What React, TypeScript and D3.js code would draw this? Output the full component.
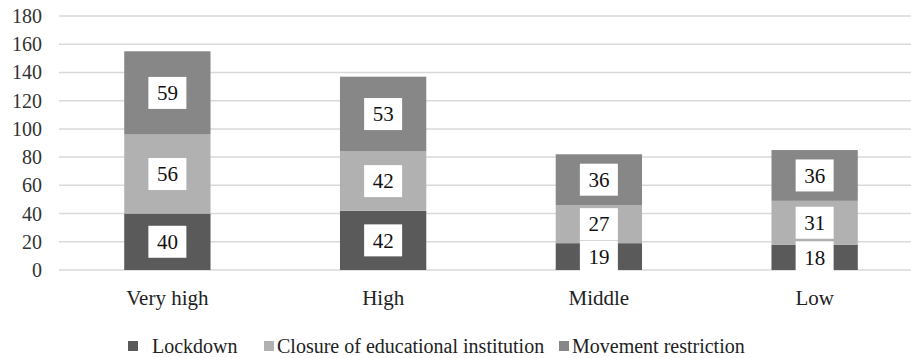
import React from "react";
import * as d3 from "d3";

const categories = ["Very high", "High", "Middle", "Low"];
const seriesNames = ["Lockdown", "Closure of educational institution", "Movement restriction"];
const lockdown = [40, 42, 19, 18];
const closure = [56, 42, 27, 31];
const movement = [59, 53, 36, 36];
const yTicks = [0, 20, 40, 60, 80, 100, 120, 140, 160, 180];
const colors = ["#5a5a5a", "#b1b1b1", "#878787"];

const W = 911;
const H = 358;
const ts = { fontFamily: '"Liberation Serif"' };

export default function App() {
  const x = d3.scaleBand<string>().domain(categories).range([59.5, 922.5]).paddingInner(0.6).paddingOuter(0.3);
  const y = d3.scaleLinear().domain([0, 180]).range([270, 16]);
  const rows = categories.map((c, i) => ({ cat: c, s0: lockdown[i], s1: closure[i], s2: movement[i] }));
  const stack = d3.stack<any>().keys(["s0", "s1", "s2"]);
  const layers = stack(rows);
  const legendX = [128, 264, 559];
  const boxW = 38;
  const boxH = 32;

  return (
    <svg width={W} height={H} fontFamily="Liberation Serif" style={{ position: "absolute", left: 0, top: 0, background: "#fff" }}>
      <style>{`text { font-family: "Liberation Serif" !important; }`}</style>
      {yTicks.map((t) => (
        <g key={t}>
          <line x1={59} x2={W} y1={y(t)} y2={y(t)} stroke="#d9d9d9" strokeWidth={1.5} />
          <text x={42} y={y(t)} dy="0.35em" textAnchor="end" fontSize={20} fill="#333" fontFamily="Liberation Serif" style={ts}>{t}</text>
        </g>
      ))}
      {layers.map((layer, li) => (
        <g key={li}>
          {layer.map((d, i) => (
            <rect key={i} x={x(categories[i])} width={x.bandwidth()} y={y(d[1])} height={y(d[0]) - y(d[1])} fill={colors[li]} />
          ))}
        </g>
      ))}
      {layers.map((layer, li) => (
        <g key={"l" + li}>
          {layer.map((d, i) => {
            const cx = (x(categories[i]) as number) + x.bandwidth() / 2;
            const cy = (y(d[0]) + y(d[1])) / 2;
            return (
              <g key={i}>
                <rect x={cx - boxW / 2} y={cy - boxH / 2} width={boxW} height={boxH} fill="#fff" />
                <text x={cx} y={cy} dy="0.35em" textAnchor="middle" fontSize={21} fill="#111" fontFamily="Liberation Serif" style={ts}>{d[1] - d[0]}</text>
              </g>
            );
          })}
        </g>
      ))}
      {categories.map((c) => (
        <text key={c} x={(x(c) as number) + x.bandwidth() / 2} y={305} textAnchor="middle" fontSize={21} fill="#222" fontFamily="Liberation Serif" style={ts}>{c}</text>
      ))}
      {seriesNames.map((s, i) => (
        <g key={s}>
          <rect x={legendX[i]} y={341} width={10} height={10} fill={colors[i]} />
          <text x={legendX[i] + (i === 0 ? 24 : 13)} y={353} fontSize={20} fill="#222" fontFamily="Liberation Serif" style={ts}>{s}</text>
        </g>
      ))}
    </svg>
  );
}
